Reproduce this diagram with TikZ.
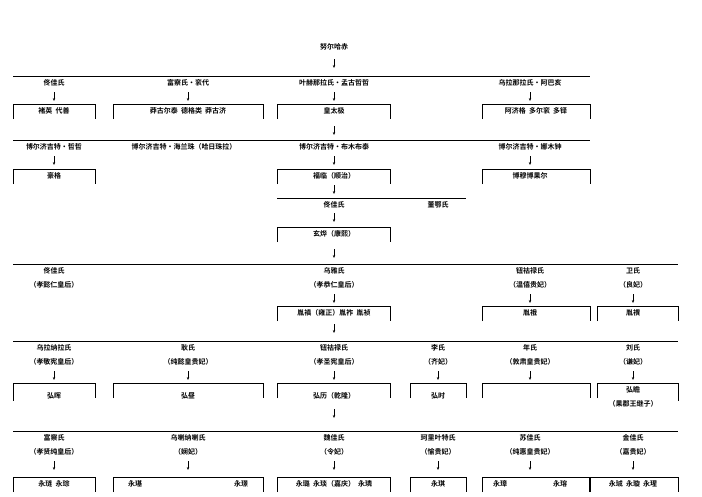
\documentclass[tikz,border=0pt]{standalone}
\usepackage{fontspec}
\newfontfamily\cjk{Noto Sans CJK SC Bold}
\usetikzlibrary{arrows.meta}
\tikzset{
 lbl/.style={font=\cjk\fontsize{7}{9}\selectfont, inner sep=0pt, align=center},
 arr/.style={-{Stealth[length=3pt,width=2.4pt]}, line width=0.5pt},
 bar/.style={line width=0.8pt},
 boxl/.style={line width=0.8pt}
}
\newcommand\obox[4]{\draw[boxl] (#1,#3+15) -- (#1,#3) -- (#2,#3) -- (#2,#3+15);}
\newcommand\arw[3]{\coordinate (#1a) at (#2,#3); \coordinate (#1b) at (#2,#3+9); \draw[arr] (#1a) -- (#1b);}
\begin{document}
\begin{tikzpicture}[x=1pt,y=-1pt]
\useasboundingbox (0,0) rectangle (702,496);
\fill[white] (0,0) rectangle (702,496);
% generation 0
\node[lbl] (nu) at (334,47) {努尔哈赤};
\arw{g0}{334}{59}
\draw[bar] (13,76) -- (590,76);
\node[lbl] (a1) at (54,83) {佟佳氏};
\node[lbl] (a2) at (188,83) {富察氏・衮代};
\node[lbl] (a3) at (334,83) {叶赫那拉氏・孟古哲哲};
\node[lbl] (a4) at (530,83) {乌拉那拉氏・阿巴亥};
\arw{a1}{54}{92}\arw{a2}{188}{92}\arw{a3}{334}{92}\arw{a4}{530}{92}
\obox{13}{95}{104}{}\obox{113}{263}{104}{}\obox{277}{390}{104}{}\obox{482}{590}{104}{}
\node[lbl] (b1) at (54,111) {褚英\ \ 代善};
\node[lbl] (b2) at (188,111) {莽古尔泰\ \ 德格类\ \ 莽古济};
\node[lbl] (b3) at (334,111) {皇太极};
\node[lbl] (b4) at (536,111) {阿济格\ \ 多尔衮\ \ 多铎};
% generation 2
\arw{g1}{334}{126}
\draw[bar] (13,140) -- (590,140);
\node[lbl] (c1) at (54,147) {博尔济吉特・哲哲};
\node[lbl] (c2) at (184,147) {博尔济吉特・海兰珠（哈日珠拉）};
\node[lbl] (c3) at (334,147) {博尔济吉特・布木布泰};
\node[lbl] (c4) at (530,147) {博尔济吉特・娜木钟};
\arw{c1}{54}{156}\arw{c3}{334}{156}\arw{c4}{530}{156}
\obox{13}{95}{169}{}\obox{277}{390}{169}{}\obox{482}{590}{169}{}
\node[lbl] (d1) at (54,176) {豪格};
\node[lbl] (d3) at (334,176) {福临（顺治）};
\node[lbl] (d4) at (530,176) {博穆博果尔};
% Shunzhi
\arw{g2}{334}{185}
\draw[bar] (277,198) -- (466,198);
\node[lbl] (e1) at (334,205) {佟佳氏};
\node[lbl] (e2) at (438,205) {董鄂氏};
\arw{e1}{334}{213}
\obox{277}{390}{227}{}
\node[lbl] (f1) at (334,234) {玄烨（康熙）};
% Kangxi
\arw{g3}{334}{249}
\draw[bar] (13,264) -- (678,264);
\node[lbl] (h1) at (54,278) {佟佳氏\\[5pt]（孝懿仁皇后）};
\node[lbl] (h2) at (334,278) {乌雅氏\\[5pt]（孝恭仁皇后）};
\node[lbl] (h3) at (530,278) {钮祜禄氏\\[5pt]（温僖贵妃）};
\node[lbl] (h4) at (633,278) {卫氏\\[5pt]（良妃）};
\arw{h2}{334}{294}\arw{h3}{530}{294}\arw{h4}{633}{294}
\obox{277}{390}{306}{}\obox{482}{590}{306}{}\obox{597}{678}{306}{}
\node[lbl] (i2) at (334,313) {胤禛（雍正）胤祚\ \ 胤祯};
\node[lbl] (i3) at (530,313) {胤䄉};
\node[lbl] (i4) at (633,313) {胤禩};
% Yongzheng
\arw{g4}{334}{324}
\draw[bar] (13,341) -- (678,341);
\node[lbl] (j1) at (54,355) {乌拉纳拉氏\\[5pt]（孝敬宪皇后）};
\node[lbl] (j2) at (188,355) {耿氏\\[5pt]（纯懿皇贵妃）};
\node[lbl] (j3) at (334,355) {钮祜禄氏\\[5pt]（孝圣宪皇后）};
\node[lbl] (j4) at (438,355) {李氏\\[5pt]（齐妃）};
\node[lbl] (j5) at (530,355) {年氏\\[5pt]（敦肃皇贵妃）};
\node[lbl] (j6) at (633,355) {刘氏\\[5pt]（谦妃）};
\arw{j1}{54}{371}\arw{j2}{188}{371}\arw{j3}{334}{371}\arw{j4}{438}{371}\arw{j5}{530}{371}\arw{j6}{633}{371}
\obox{13}{95}{383}{}\obox{113}{263}{383}{}\obox{277}{390}{383}{}\obox{410}{466}{383}{}\obox{482}{590}{383}{}\obox{597}{678}{383}{}
\draw[boxl] (13,398) -- (13,401); \draw[boxl] (678,398) -- (678,401);
\node[lbl] (k1) at (54,396) {弘晖};
\node[lbl] (k2) at (188,396) {弘昼};
\node[lbl] (k3) at (334,396) {弘历（乾隆）};
\node[lbl] (k4) at (438,396) {弘时};
\node[lbl] (k6) at (633,397) {弘瞻\\[5pt]（果郡王继子）};
% Qianlong
\arw{g5}{334}{409}
\draw[bar] (13,431) -- (678,431);
\node[lbl] (m1) at (54,445) {富察氏\\[5pt]（孝贤纯皇后）};
\node[lbl] (m2) at (188,445) {乌喇纳喇氏\\[5pt]（娴妃）};
\node[lbl] (m3) at (334,445) {魏佳氏\\[5pt]（令妃）};
\node[lbl] (m4) at (438,445) {珂里叶特氏\\[5pt]（愉贵妃）};
\node[lbl] (m5) at (530,445) {苏佳氏\\[5pt]（纯惠皇贵妃）};
\node[lbl] (m6) at (633,445) {金佳氏\\[5pt]（嘉贵妃）};
\arw{m1}{54}{461}\arw{m2}{188}{461}\arw{m3}{334}{461}\arw{m4}{438}{461}\arw{m5}{530}{461}\arw{m6}{633}{461}
\obox{13}{95}{477}{}\obox{113}{263}{477}{}\obox{277}{390}{477}{}\obox{410}{466}{477}{}\obox{482}{590}{477}{}\obox{589}{678}{477}{}
\node[lbl] (n1) at (54,484) {永琏\ \ 永琮};
\node[lbl] (n2a) at (135,484) {永璂};
\node[lbl] (n2b) at (241,484) {永璟};
\node[lbl] (n3) at (334,484) {永璐\ \ 永琰（嘉庆）\ \ 永璘};
\node[lbl] (n4) at (438,484) {永琪};
\node[lbl] (n5a) at (500,484) {永璋};
\node[lbl] (n5b) at (560,484) {永瑢};
\node[lbl] (n6) at (633,484) {永珹\ \ 永璇\ \ 永瑆};
\end{tikzpicture}
\end{document}
